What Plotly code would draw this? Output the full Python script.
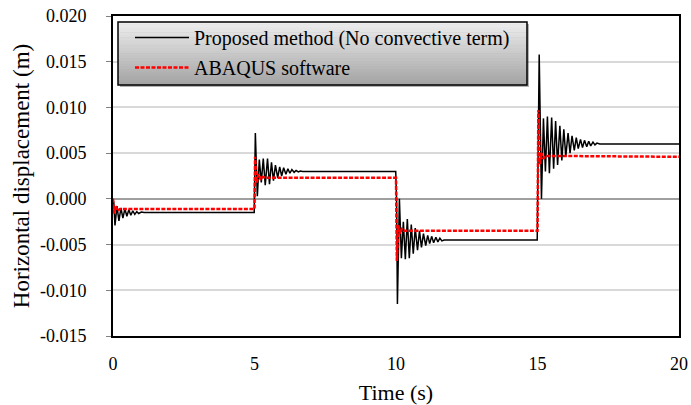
import plotly.graph_objects as go

# ---------------- data ----------------
t_proposed = [
    0.00, 0.03, 0.07, 0.14, 0.21, 0.28, 0.35, 0.42, 0.49, 0.56, 0.63, 0.70, 0.77, 0.84, 0.91, 1.00, 1.10,
    4.99, 5.03, 5.10, 5.17, 5.24, 5.31, 5.38, 5.46, 5.53, 5.60, 5.67, 5.74, 5.82, 5.89, 5.96, 6.03, 6.11,
    6.18, 6.25, 6.32, 6.40, 6.47, 6.55, 6.62, 6.70,
    9.99, 10.02, 10.05, 10.12, 10.19, 10.26, 10.33, 10.40, 10.47, 10.54, 10.61, 10.68, 10.76, 10.83, 10.90,
    10.97, 11.05, 11.12, 11.19, 11.26, 11.33, 11.41, 11.48, 11.55, 11.62, 11.70,
    14.99, 15.06, 15.14, 15.21, 15.28, 15.35, 15.42, 15.50, 15.57, 15.64, 15.71, 15.79, 15.86, 15.93, 16.00,
    16.08, 16.15, 16.22, 16.30, 16.37, 16.44, 16.52, 16.59, 16.66, 16.74, 16.81, 16.88, 16.96, 17.03, 17.10,
    17.20, 20.00,
]
u_proposed = [
    0.0000, -0.0005, -0.0029, -0.0008, -0.0024, -0.0010, -0.0021, -0.0011, -0.0019, -0.0012, -0.0018, -0.0013,
    -0.0017, -0.0014, -0.0016, -0.00145, -0.0015,
    -0.0015, 0.0072, 0.0003, 0.0043, 0.0018, 0.0044, 0.0015, 0.0044, 0.0016, 0.0040, 0.0020, 0.0037, 0.0023,
    0.0035, 0.0025, 0.0034, 0.0027, 0.0033, 0.0028, 0.0032, 0.0029, 0.0031, 0.00295, 0.00305, 0.0030,
    0.0030, 0.0000, -0.0115, 0.0000, -0.0065, -0.0025, -0.0066, -0.0022, -0.0065, -0.0028, -0.0060, -0.0032,
    -0.0056, -0.0035, -0.0053, -0.0038, -0.0051, -0.0040, -0.0049, -0.0041, -0.0048, -0.0042, -0.0047,
    -0.0043, -0.0046, -0.0045,
    -0.0045, 0.0158, 0.0000, 0.0088, 0.0030, 0.0090, 0.0028, 0.0089, 0.0033, 0.0085, 0.0037, 0.0080, 0.0042,
    0.0076, 0.0046, 0.0072, 0.0050, 0.0069, 0.0053, 0.0067, 0.0055, 0.0065, 0.0056, 0.0064, 0.0057, 0.0063,
    0.0058, 0.0062, 0.0059, 0.0061, 0.0060, 0.0060,
]

t_abaqus = [
    0.00, 0.04, 0.10, 0.16, 0.25,
    5.00, 5.02, 5.08, 5.15, 5.22, 5.30, 5.40,
    10.00, 10.03, 10.08, 10.14, 10.20, 10.28,
    15.00, 15.03, 15.08, 15.14, 15.20, 15.28, 20.00,
]
u_abaqus = [
    0.0000, -0.0016, -0.0008, -0.0013, -0.0011,
    -0.0011, 0.0046, 0.0018, 0.0027, 0.0021, 0.0024, 0.0023,
    0.0023, -0.0068, -0.0029, -0.0038, -0.0033, -0.0035,
    -0.0035, 0.0097, 0.0038, 0.0050, 0.0044, 0.0047, 0.0046,
]

x_ticks = [0, 5, 10, 15, 20]
y_ticks = [-0.015, -0.010, -0.005, 0.000, 0.005, 0.010, 0.015, 0.020]
y_tick_labels = ["-0.015", "-0.010", "-0.005", "0.000", "0.005", "0.010", "0.015", "0.020"]

name_proposed = "Proposed method (No convective term)"
name_abaqus = "ABAQUS software"

# ---------------- figure ----------------
FONT = "Liberation Serif, Times New Roman, serif"
fig = go.Figure()
fig.add_trace(go.Scatter(x=t_proposed, y=u_proposed, mode="lines", name=name_proposed,
                         legendgroup="a", line=dict(color="black", width=1.5)))
fig.add_trace(go.Scatter(x=t_abaqus, y=u_abaqus, mode="lines", name=name_abaqus,
                         legendgroup="b", line=dict(color="#ff0000", width=2.5, dash="4px,1.5px")))

FW, FH = 691, 405
# plot area in window pixels
L, R, T, B = 113, 679, 16, 336
W, H = R - L, B - T

# legend box with vertical grey gradient (drawn as strips), window pixels
bx0, bx1, by0, by1 = 118, 527, 22, 85
n = 24
shapes = []
shapes.append(dict(type="rect", xref="paper", yref="paper", layer="above",
                   x0=(bx0 + 2 - L) / W, x1=(bx1 + 2 - L) / W,
                   y0=(B - (by1 + 2)) / H, y1=(B - (by0 + 2)) / H,
                   line=dict(width=0), fillcolor="rgba(0,0,0,0.3)"))
for i in range(n):
    c = int(238 - (238 - 165) * i / (n - 1))
    ya = by0 + (by1 - by0) * i / n
    yb = by0 + (by1 - by0) * (i + 1) / n
    shapes.append(dict(type="rect", xref="paper", yref="paper", layer="above",
                       x0=(bx0 - L) / W, x1=(bx1 - L) / W,
                       y0=(B - yb) / H, y1=(B - ya) / H + 0.001,
                       line=dict(width=0), fillcolor=f"rgb({c},{c},{c})"))
shapes.append(dict(type="rect", xref="paper", yref="paper", layer="above",
                   x0=(bx0 - L) / W, x1=(bx1 - L) / W,
                   y0=(B - by1) / H, y1=(B - by0) / H,
                   line=dict(width=1.5, color="black"), fillcolor="rgba(0,0,0,0)"))

fig.update_layout(
    width=FW, height=FH,
    margin=dict(l=L, r=FW - R, t=T, b=FH - B, pad=0),
    paper_bgcolor="white", plot_bgcolor="white",
    font=dict(family=FONT, color="black", size=18),
    shapes=shapes,
    showlegend=True,
    legend=dict(x=(130 - L) / W, y=(B - 18) / H, xanchor="left", yanchor="top",
                bgcolor="rgba(0,0,0,0)", borderwidth=0,
                font=dict(family=FONT, size=20, color="black"),
                traceorder="grouped", tracegroupgap=1, itemwidth=54),
    xaxis=dict(range=[0, 20], tickvals=x_ticks, ticktext=[str(v) for v in x_ticks],
               showgrid=False, zeroline=False, showline=True, linecolor="black", linewidth=2,
               mirror=True, ticks="", tickfont=dict(size=18), automargin=False,
               ticklabelstandoff=10, ticklabeloverflow="allow",
               title=dict(text="Time (s)", font=dict(size=22), standoff=24)),
    yaxis=dict(range=[-0.015, 0.020], tickvals=y_ticks, ticktext=y_tick_labels,
               showgrid=True, gridcolor="#d9d9d9", gridwidth=1.5,
               zeroline=True, zerolinecolor="#a0a0a0", zerolinewidth=2,
               showline=True, linecolor="black", linewidth=2, mirror=True,
               ticks="outside", ticklen=5, tickcolor="#808080", tickfont=dict(size=18),
               automargin=False, ticklabelstandoff=16, ticklabeloverflow="allow",
               title=dict(text="Horizontal displacement (m)", font=dict(size=23), standoff=4)),
)

# remove the browser's default 8px page margin so the figure fills the window
fig.write_html("out.html", config={"displayModeBar": False},
               post_script="document.body.style.margin='0';document.body.style.overflow='hidden';")
